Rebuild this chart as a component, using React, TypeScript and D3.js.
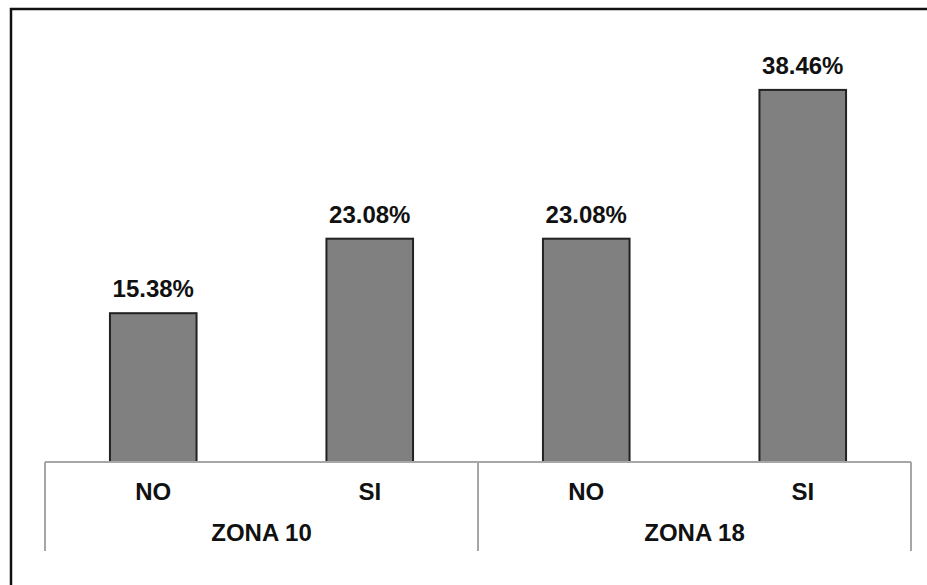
import * as d3 from "d3";
import { useEffect, useRef } from "react";

const zones = ["ZONA 10", "ZONA 18"];
const answers = ["NO", "SI"];
const zona10 = [15.38, 23.08];
const zona18 = [23.08, 38.46];

const W = 927;
const H = 585;

const draw = (svgEl: SVGSVGElement) => {
  const svg = d3.select(svgEl);
  svg.selectAll("*").remove();

  const rows = [zona10, zona18].flatMap((vals, zi) =>
    vals.map((v, ai) => ({ zone: zones[zi], answer: answers[ai], value: v }))
  );

  const baseY = 462;
  const x0 = d3.scaleBand().domain(zones).range([45, 911]).padding(0);
  const x1 = d3.scaleBand().domain(answers).range([0, x0.bandwidth()])
    .paddingInner(0.6).paddingOuter(0.3);
  const y = d3.scaleLinear().domain([0, 40]).range([baseY, 75]);

  // frame
  svg.append("path")
    .attr("d", `M11,${H} L11,9 L${W},9`)
    .attr("fill", "none")
    .attr("stroke", "#111")
    .attr("stroke-width", 2.5);

  const font = "'Liberation Sans', Arial, sans-serif";

  // bars
  svg.append("g").selectAll("rect")
    .data(rows)
    .join("rect")
    .attr("x", d => x0(d.zone)! + x1(d.answer)!)
    .attr("y", d => y(d.value))
    .attr("width", x1.bandwidth())
    .attr("height", d => baseY - y(d.value))
    .attr("fill", "#808080")
    .attr("stroke", "#222")
    .attr("stroke-width", 2);

  // value labels
  svg.append("g").selectAll("text")
    .data(rows)
    .join("text")
    .attr("x", d => x0(d.zone)! + x1(d.answer)! + x1.bandwidth() / 2)
    .attr("y", d => y(d.value) - 16)
    .attr("text-anchor", "middle")
    .style("font-family", font)
    .style("font-weight", "bold")
    .style("font-size", "24px")
    .attr("fill", "#111")
    .text(d => d.value.toFixed(2) + "%");

  // axis line + separators
  svg.append("line")
    .attr("x1", 45).attr("x2", 911)
    .attr("y1", baseY).attr("y2", baseY)
    .attr("stroke", "#a6a6a6").attr("stroke-width", 2);

  const seps = [...zones.map(z => x0(z)!), x0.range()[1]];
  svg.append("g").selectAll("line")
    .data(seps)
    .join("line")
    .attr("x1", d => d).attr("x2", d => d)
    .attr("y1", baseY).attr("y2", 551)
    .attr("stroke", "#a6a6a6").attr("stroke-width", 2);

  // category labels
  svg.append("g").selectAll("text")
    .data(rows)
    .join("text")
    .attr("x", d => x0(d.zone)! + x1(d.answer)! + x1.bandwidth() / 2)
    .attr("y", 500)
    .attr("text-anchor", "middle")
    .style("font-family", font)
    .style("font-weight", "bold")
    .style("font-size", "24px")
    .attr("fill", "#111")
    .text(d => d.answer);

  // zone labels
  svg.append("g").selectAll("text")
    .data(zones)
    .join("text")
    .attr("x", d => x0(d)! + x0.bandwidth() / 2)
    .attr("y", 541)
    .attr("text-anchor", "middle")
    .style("font-family", font)
    .style("font-weight", "bold")
    .style("font-size", "24px")
    .attr("fill", "#111")
    .text(d => d);
};

export default function App() {
  const ref = useRef<SVGSVGElement>(null);

  useEffect(() => {
    if (ref.current) draw(ref.current);
  }, []);

  return (
    <svg
      ref={ref}
      width={W}
      height={H}
      style={{ position: "absolute", left: 0, top: 0, background: "#fff" }}
    />
  );
}
